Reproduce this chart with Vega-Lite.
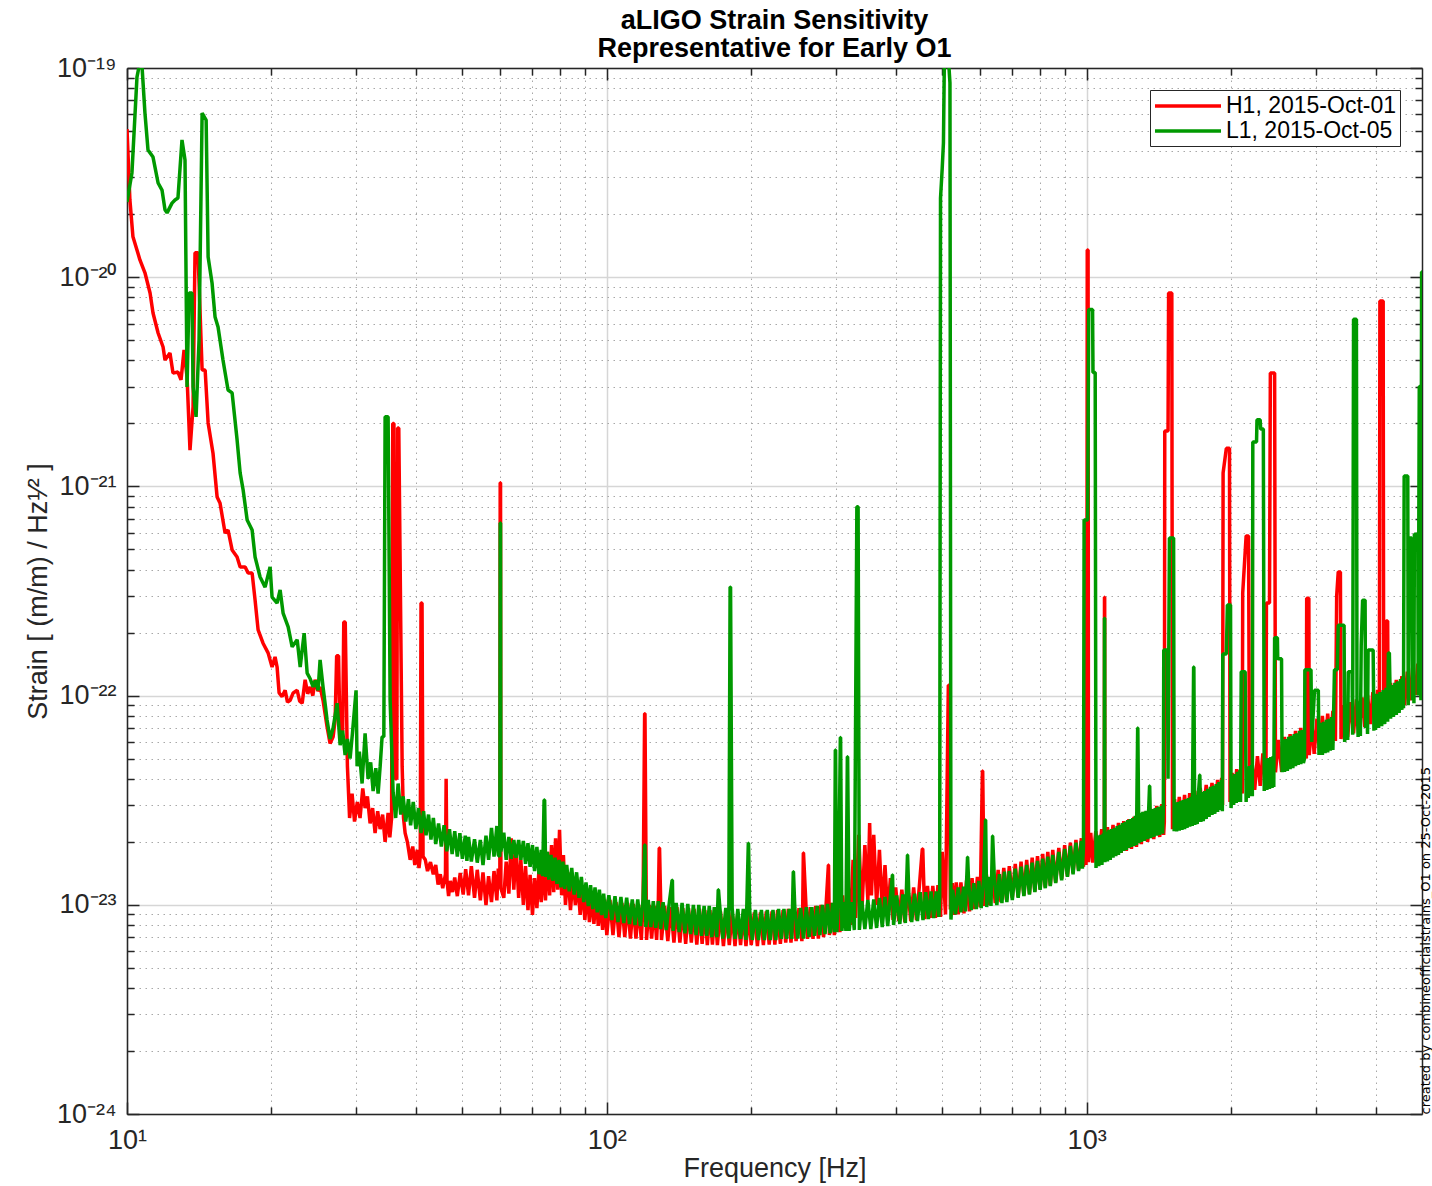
{
"$schema": "https://vega.github.io/schema/vega-lite/v6.json",
"width": 1295,
"height": 1046,
"autosize": {"type": "none"},
"padding": {"left": 127, "top": 68, "right": 10, "bottom": 72},
"background": "white",
"config": {"view": {"stroke": null}, "font": "Liberation Sans"},
"title": {"text": ["aLIGO Strain Sensitivity", "Representative for Early O1"], "fontSize": 27, "fontWeight": "bold", "font": "Liberation Sans", "color": "#000000", "lineHeight": 28, "offset": -9, "anchor": "middle"},
"datasets": {
"h1": [
{"f":10,"h":5.1e-20},{"f":10.14,"h":2.34e-20},{"f":10.29,"h":1.56e-20},{"f":10.49,"h":1.35e-20},{"f":10.64,"h":1.21e-20},{"f":10.9,"h":1.05e-20},{"f":11.17,"h":8.4e-21},{"f":11.33,"h":6.74e-21},{"f":11.61,"h":5.41e-21},{"f":11.89,"h":4.64e-21},{"f":12.0,"h":4.02e-21},{"f":12.29,"h":4.34e-21},{"f":12.47,"h":3.48e-21},{"f":12.77,"h":3.52e-21},{"f":12.96,"h":3.23e-21},{"f":13.15,"h":4.49e-21},{"f":13.34,"h":3.33e-21},{"f":13.53,"h":1.49e-21},{"f":13.73,"h":2.4e-21},{"f":13.86,"h":1.31e-20},{"f":14.06,"h":1.31e-20},{"f":14.34,"h":3.6e-21},{"f":14.55,"h":3.6e-21},{"f":14.76,"h":2.01e-21},{"f":15.11,"h":1.44e-21},{"f":15.41,"h":8.9e-22},{"f":15.63,"h":8.3e-22},{"f":16.01,"h":5.99e-22},{"f":16.24,"h":6.19e-22},{"f":16.56,"h":4.97e-22},{"f":16.96,"h":4.6e-22},{"f":17.21,"h":4.12e-22},{"f":17.63,"h":4.12e-22},{"f":17.88,"h":3.85e-22},{"f":18.23,"h":3.85e-22},{"f":18.49,"h":2.86e-22},{"f":18.76,"h":2.06e-22},{"f":19.21,"h":1.78e-22},{"f":19.68,"h":1.6e-22},{"f":20.06,"h":1.37e-22},{"f":20.35,"h":1.53e-22},{"f":20.55,"h":1.37e-22},{"f":20.75,"h":1.03e-22},{"f":21.05,"h":9.9e-23},{"f":21.36,"h":1.06e-22},{"f":21.6,"h":9.3e-23},{"f":21.88,"h":9.5e-23},{"f":22.2,"h":1.03e-22},{"f":22.63,"h":1.06e-22},{"f":22.9,"h":9.4e-23},{"f":23.18,"h":9.2e-23},{"f":23.51,"h":1.19e-22},{"f":23.8,"h":1.02e-22},{"f":24.08,"h":1.1e-22},{"f":24.4,"h":1.0e-22},{"f":24.66,"h":1.19e-22},{"f":25.0,"h":1.05e-22},{"f":25.26,"h":1.1e-22},{"f":25.62,"h":9.5e-23},{"f":26.12,"h":7.1e-23},{"f":26.5,"h":5.9e-23},{"f":26.89,"h":6.35e-23},{"f":27.15,"h":7.65e-23},{"f":27.35,"h":1.55e-22},{"f":27.6,"h":1.55e-22},{"f":27.8,"h":6.5e-23},{"f":28.15,"h":6.8e-23},{"f":28.3,"h":2.25e-22},{"f":28.5,"h":2.25e-22},{"f":28.8,"h":4.6e-23},{"f":29.1,"h":2.6e-23},{"f":29.45,"h":3.4e-23},{"f":29.8,"h":2.5e-23},{"f":30.2,"h":3.1e-23},{"f":30.6,"h":2.6e-23},{"f":31.0,"h":3.6e-23},{"f":31.35,"h":2.9e-23},{"f":31.7,"h":3.3e-23},{"f":32.11,"h":2.45e-23},{"f":32.5,"h":2.9e-23},{"f":32.89,"h":2.2e-23},{"f":33.3,"h":2.8e-23},{"f":33.69,"h":2.3e-23},{"f":34.1,"h":2.7e-23},{"f":34.51,"h":2.0e-23},{"f":35.01,"h":2.75e-23},{"f":35.3,"h":2.1e-23},{"f":35.6,"h":2.6e-23},{"f":35.8,"h":2.0e-21},{"f":36.0,"h":2.0e-21},{"f":36.2,"h":4.0e-23},{"f":36.5,"h":4.0e-23},{"f":36.65,"h":1.9e-21},{"f":36.85,"h":1.9e-21},{"f":37.45,"h":4.6e-23},{"f":37.7,"h":2.6e-23},{"f":37.99,"h":2.2e-23},{"f":38.4,"h":2.0e-23},{"f":38.92,"h":1.64e-23},{"f":39.4,"h":1.9e-23},{"f":39.8,"h":1.55e-23},{"f":40.27,"h":1.83e-23},{"f":40.6,"h":1.5e-23},{"f":40.85,"h":1.7e-23},{"f":41.0,"h":2.77e-22},{"f":41.2,"h":2.77e-22},{"f":41.4,"h":1.7e-23},{"f":41.85,"h":1.64e-23},{"f":42.3,"h":1.45e-23},{"f":42.9,"h":1.6e-23},{"f":43.49,"h":1.4e-23},{"f":44.0,"h":1.55e-23},{"f":44.5,"h":1.25e-23},{"f":44.97,"h":1.4e-23},{"f":45.5,"h":1.2e-23},{"f":46.1,"h":1.4e-23},{"f":46.25,"h":4.0e-23},{"f":46.45,"h":1.3e-23},{"f":46.8,"h":1.1e-23},{"f":47.17,"h":1.3e-23},{"f":47.7,"h":1.15e-23},{"f":48.2,"h":1.35e-23},{"f":48.8,"h":1.1e-23},{"f":49.49,"h":1.42e-23},{"f":50.2,"h":1.12e-23},{"f":50.8,"h":1.48e-23},
{"f":51.5,"h":1.11e-23},{"f":52.2,"h":1.53e-23},{"f":53,"h":1.08e-23},{"f":53.7,"h":1.47e-23},{"f":54.5,"h":1.05e-23},{"f":55.2,"h":1.43e-23},{"f":56,"h":9.98e-24},{"f":56.7,"h":1.37e-23},{"f":57.5,"h":1.03e-23},{"f":58.2,"h":1.45e-23},{"f":59,"h":1.05e-23},{"f":59.4,"h":1.49e-23},{"f":59.85,"h":1.2e-23},{"f":59.95,"h":1.04e-21},{"f":60.05,"h":1.04e-21},{"f":60.15,"h":1.2e-23},{"f":61,"h":1.08e-23},{"f":61.7,"h":1.61e-23},{"f":62.5,"h":1.13e-23},{"f":63.2,"h":2.08e-23},{"f":64,"h":1.18e-23},{"f":64.7,"h":1.9e-23},{"f":65.5,"h":1.08e-23},{"f":66.2,"h":1.64e-23},{"f":67,"h":9.98e-24},{"f":67.7,"h":1.53e-23},{"f":68.5,"h":9.44e-24},{"f":69.2,"h":1.39e-23},{"f":70,"h":8.94e-24},{"f":70.7,"h":1.34e-23},{"f":71.5,"h":9.65e-24},{"f":72.2,"h":1.47e-23},{"f":73,"h":1.03e-23},{"f":73.7,"h":1.61e-23},{"f":74.5,"h":1.05e-23},{"f":75.2,"h":1.79e-23},{"f":76,"h":1.11e-23},{"f":76.7,"h":1.93e-23},{"f":77.5,"h":1.15e-23},{"f":78.2,"h":2.08e-23},{"f":79,"h":1.18e-23},{"f":79.7,"h":2.28e-23},{"f":80.5,"h":1.11e-23},{"f":81.2,"h":1.73e-23},{"f":82,"h":9.98e-24},{"f":83,"h":1.43e-23},{"f":84,"h":9.44e-24},{"f":85,"h":1.34e-23},{"f":86,"h":9.98e-24},{"f":87,"h":1.28e-23},{"f":88,"h":8.94e-24},{"f":89,"h":1.23e-23},{"f":90,"h":8.46e-24},{"f":91,"h":1.18e-23},{"f":92,"h":8.27e-24},{"f":93,"h":1.13e-23},{"f":94,"h":8.1e-24},{"f":95,"h":1.11e-23},{"f":96,"h":7.92e-24},{"f":97,"h":1.08e-23},{"f":98,"h":7.58e-24},{"f":99,"h":1.06e-23},{"f":100,"h":7.17e-24},{"f":101.5,"h":1.054e-23},{"f":103,"h":7.17e-24},{"f":104.5,"h":1.03e-23},{"f":106,"h":7.0e-24},{"f":107.5,"h":1.02e-23},{"f":109,"h":7.0e-24},{"f":110.5,"h":1.02e-23},{"f":112,"h":6.9e-24},{"f":113.5,"h":1.01e-23},{"f":115,"h":6.9e-24},{"f":116.5,"h":9.98e-24},{"f":118,"h":6.79e-24},{"f":119,"h":9.98e-24},{"f":119.9,"h":8.2e-23},{"f":120.1,"h":8.2e-23},{"f":121,"h":6.79e-24},{"f":122.5,"h":9.98e-24},{"f":124,"h":6.9e-24},{"f":125.5,"h":9.87e-24},{"f":127,"h":6.79e-24},{"f":128,"h":9.87e-24},{"f":128.6,"h":1.87e-23},{"f":128.8,"h":1.87e-23},{"f":130,"h":6.79e-24},{"f":132,"h":9.87e-24},{"f":134,"h":6.7e-24},{"f":136,"h":9.75e-24},{"f":138,"h":6.6e-24},{"f":140,"h":9.75e-24},{"f":142,"h":6.6e-24},{"f":144,"h":9.65e-24},{"f":146,"h":6.5e-24},{"f":148,"h":9.65e-24},{"f":150,"h":6.6e-24},{"f":152,"h":9.55e-24},{"f":154,"h":6.45e-24},{"f":156,"h":9.55e-24},{"f":158,"h":6.5e-24},{"f":160,"h":9.44e-24},{"f":162,"h":6.42e-24},{"f":164,"h":9.44e-24},{"f":166,"h":6.45e-24},{"f":168,"h":9.3e-24},{"f":170,"h":6.42e-24},{"f":172.5,"h":9.3e-24},{"f":175,"h":6.35e-24},{"f":177.5,"h":9.2e-24},{"f":180,"h":6.42e-24},{"f":182.5,"h":9.2e-24},{"f":185,"h":6.35e-24},{"f":187.5,"h":9.2e-24},{"f":190,"h":6.42e-24},{"f":192.5,"h":9.1e-24},{"f":195,"h":6.35e-24},{"f":197.5,"h":9.2e-24},{"f":200,"h":6.42e-24},{"f":203,"h":9.2e-24},{"f":206,"h":6.35e-24},{"f":209,"h":9.2e-24},{"f":212,"h":6.42e-24},{"f":215,"h":9.3e-24},{"f":218,"h":6.45e-24},{"f":221,"h":9.3e-24},{"f":224,"h":6.45e-24},{"f":227,"h":9.44e-24},{"f":230,"h":6.5e-24},{"f":233,"h":9.44e-24},{"f":236,"h":6.6e-24},{"f":239,"h":9.55e-24},{"f":242,"h":6.6e-24},{"f":245,"h":9.55e-24},{"f":248,"h":6.7e-24},{"f":251.5,"h":9.65e-24},{"f":255,"h":6.7e-24},{"f":256,"h":9.65e-24},{"f":256.8,"h":1.77e-23},{"f":257.0,"h":1.77e-23},{"f":262,"h":6.87e-24},{"f":265.5,"h":9.75e-24},{"f":269,"h":6.87e-24},{"f":272.5,"h":9.87e-24},{"f":276,"h":6.9e-24},{"f":279.5,"h":9.98e-24},{"f":283,"h":7.0e-24},{"f":286.5,"h":1.01e-23},{"f":289.6,"h":1.55e-23},{"f":289.8,"h":1.55e-23},{"f":291,"h":7.17e-24},{"f":294.5,"h":1.02e-23},{"f":298,"h":7.17e-24},{"f":302,"h":1.054e-23},{"f":306,"h":7.4e-24},{"f":310,"h":1.11e-23},{"f":314,"h":7.75e-24},{"f":318,"h":1.31e-23},{"f":322,"h":8.01e-24},{"f":326,"h":1.64e-23},{"f":330,"h":8.65e-24},{"f":335,"h":2.16e-23},{"f":340,"h":9.2e-24},{"f":345,"h":1.93e-23},{"f":350,"h":1.054e-23},{"f":353,"h":2.46e-23},{"f":356,"h":1.11e-23},{"f":360,"h":2.16e-23},{"f":365,"h":9.98e-24},{"f":370,"h":1.83e-23},{"f":375,"h":9.44e-24},{"f":380,"h":1.55e-23},{"f":385,"h":8.94e-24},{"f":390,"h":1.34e-23},{"f":395,"h":8.46e-24},{"f":400,"h":1.21e-23},{"f":406,"h":8.36e-24},{"f":412,"h":1.18e-23},{"f":418,"h":8.27e-24},{"f":424,"h":1.21e-23},{"f":430,"h":8.36e-24},{"f":436,"h":1.21e-23},{"f":442,"h":8.46e-24},{"f":448,"h":1.22e-23},{"f":454.5,"h":1.85e-23},{"f":455.5,"h":1.85e-23},{"f":460,"h":8.55e-24},{"f":466,"h":1.23e-23},{"f":472,"h":8.65e-24},{"f":478,"h":1.23e-23},{"f":484,"h":8.65e-24},{"f":490,"h":1.24e-23},{"f":496,"h":8.75e-24},{"f":500,"h":1.79e-23},{"f":508,"h":9.0e-24},{"f":515,"h":1.12e-22},{"f":516,"h":1.12e-22},{"f":520,"h":9.5e-24},{"f":525,"h":1.27e-23},{"f":530,"h":8.94e-24},{"f":535,"h":1.28e-23},{"f":540,"h":9.0e-24},{"f":547,"h":1.28e-23},{"f":555,"h":9.1e-24},{"f":562,"h":1.31e-23},{"f":570,"h":9.3e-24},{"f":577,"h":1.34e-23},{"f":585,"h":9.55e-24},{"f":592,"h":1.36e-23},{"f":600,"h":9.75e-24},{"f":606.5,"h":4.36e-23},{"f":607.3,"h":4.36e-23},{"f":612,"h":9.87e-24},{"f":618,"h":1.4e-23},{"f":627,"h":9.98e-24},{"f":636,"h":1.44e-23},{"f":645,"h":1.02e-23},{"f":654,"h":1.47e-23},{"f":663,"h":1.03e-23},{"f":672,"h":1.5e-23},{"f":681,"h":1.054e-23},{"f":690,"h":1.53e-23},{"f":700,"h":1.08e-23},{"f":710,"h":1.57e-23},{"f":720,"h":1.09e-23},{"f":730,"h":1.61e-23},{"f":740,"h":1.11e-23},{"f":750,"h":1.64e-23},{"f":760,"h":1.13e-23},{"f":770,"h":1.68e-23},{"f":780,"h":1.16e-23},{"f":790,"h":1.71e-23},{"f":800,"h":1.19e-23},{"f":810,"h":1.75e-23},{"f":820,"h":1.21e-23},{"f":830,"h":1.79e-23},{"f":840,"h":1.24e-23},{"f":850,"h":1.83e-23},{"f":862,"h":1.28e-23},{"f":875,"h":1.87e-23},{"f":887,"h":1.33e-23},{"f":900,"h":1.93e-23},{"f":912,"h":1.37e-23},{"f":925,"h":1.98e-23},{"f":937,"h":1.42e-23},{"f":950,"h":2.04e-23},{"f":962,"h":1.47e-23},{"f":975,"h":2.08e-23},{"f":985,"h":1.52e-23},{"f":990,"h":2.14e-23},{"f":997,"h":1.55e-23},{"f":999,"h":6.9e-22},{"f":1002,"h":6.9e-22},{"f":1003,"h":1.35e-20},{"f":1007,"h":1.35e-20},{"f":1009,"h":1.6e-23},{"f":1020,"h":2.21e-23},{"f":1030,"h":1.59e-23},{"f":1045,"h":2.25e-23},{"f":1060,"h":1.62e-23},{"f":1075,"h":2.3e-23},{"f":1088.5,"h":1.7e-23},{"f":1089.5,"h":2.95e-22},{"f":1090.5,"h":2.95e-22},{"f":1091.5,"h":1.65e-23},{"f":1105,"h":2.35e-23},{"f":1120,"h":1.7e-23},{"f":1135,"h":2.41e-23},{"f":1150,"h":1.73e-23},{"f":1165,"h":2.46e-23},{"f":1180,"h":1.77e-23},{"f":1195,"h":2.51e-23},{"f":1210,"h":1.81e-23},{"f":1225,"h":2.57e-23},{"f":1240,"h":1.85e-23},{"f":1255,"h":2.63e-23},{"f":1270,"h":1.89e-23},{"f":1285,"h":2.69e-23},{"f":1300,"h":1.95e-23},{"f":1320,"h":2.78e-23},{"f":1340,"h":2.0e-23},{"f":1360,"h":2.87e-23},{"f":1380,"h":2.06e-23},{"f":1400,"h":2.97e-23},{"f":1420,"h":2.11e-23},{"f":1435,"h":3.03e-23},{"f":1447,"h":2.16e-23},{"f":1452,"h":2.5e-23},{"f":1455,"h":1.84e-21},{"f":1478,"h":1.84e-21},{"f":1482,"h":8.4e-21},{"f":1505,"h":8.4e-21},{"f":1510,"h":2.3e-23},{"f":1525,"h":3.2e-23},{"f":1540,"h":2.3e-23},{"f":1560,"h":3.28e-23},{"f":1580,"h":2.36e-23},{"f":1600,"h":3.35e-23},{"f":1620,"h":2.41e-23},{"f":1640,"h":3.42e-23},{"f":1660,"h":2.49e-23},{"f":1680,"h":3.5e-23},{"f":1700,"h":2.54e-23},{"f":1725,"h":3.62e-23},{"f":1750,"h":2.66e-23},{"f":1775,"h":3.74e-23},{"f":1800,"h":2.78e-23},{"f":1825,"h":3.82e-23},{"f":1850,"h":2.84e-23},{"f":1875,"h":3.95e-23},{"f":1900,"h":2.97e-23},{"f":1912,"h":4.04e-23},{"f":1920,"h":3.0e-23},{"f":1925,"h":1.16e-21},{"f":1955,"h":1.52e-21},{"f":1985,"h":1.52e-21},{"f":1990,"h":3.1e-23},{"f":2010,"h":4.27e-23},{"f":2030,"h":3.17e-23},{"f":2055,"h":4.45e-23},{"f":2080,"h":3.28e-23},{"f":2100,"h":4.6e-23},{"f":2110,"h":3.4e-23},{"f":2115,"h":3.1e-22},{"f":2150,"h":5.8e-22},{"f":2175,"h":5.8e-22},{"f":2185,"h":3.5e-23},{"f":2210,"h":4.92e-23},{"f":2240,"h":3.54e-23},{"f":2270,"h":5.14e-23},{"f":2300,"h":3.7e-23},{"f":2330,"h":5.3e-23},{"f":2360,"h":3.82e-23},{"f":2365,"h":4.5e-23},{"f":2370,"h":2.77e-22},{"f":2405,"h":2.77e-22},{"f":2415,"h":3.48e-21},{"f":2465,"h":3.48e-21},{"f":2475,"h":4.3e-23},{"f":2510,"h":6.14e-23},{"f":2550,"h":4.32e-23},{"f":2585,"h":6.35e-23},{"f":2620,"h":4.45e-23},{"f":2655,"h":6.55e-23},{"f":2690,"h":4.6e-23},{"f":2725,"h":6.78e-23},{"f":2760,"h":4.76e-23},{"f":2795,"h":7.0e-23},{"f":2830,"h":4.92e-23},{"f":2850,"h":7.1e-23},{"f":2870,"h":5.0e-23},{"f":2875,"h":2.92e-22},{"f":2905,"h":2.92e-22},{"f":2910,"h":5.2e-23},{"f":2945,"h":7.5e-23},{"f":2980,"h":5.26e-23},{"f":3020,"h":7.75e-23},{"f":3060,"h":5.45e-23},{"f":3100,"h":8.0e-23},{"f":3140,"h":5.68e-23},{"f":3180,"h":8.2e-23},{"f":3220,"h":5.87e-23},{"f":3260,"h":8.45e-23},{"f":3300,"h":6.07e-23},{"f":3320,"h":3.0e-22},{"f":3345,"h":3.9e-22},{"f":3380,"h":3.9e-22},{"f":3390,"h":6.2e-23},{"f":3445,"h":9.0e-23},{"f":3500,"h":6.35e-23},{"f":3550,"h":9.3e-23},{"f":3600,"h":6.6e-23},{"f":3650,"h":9.6e-23},{"f":3700,"h":6.85e-23},{"f":3750,"h":9.8e-23},{"f":3800,"h":7.07e-23},{"f":3850,"h":1.007e-22},{"f":3900,"h":7.3e-23},{"f":3950,"h":1.04e-22},{"f":4000,"h":7.55e-23},{"f":4040,"h":1.064e-22},{"f":4075,"h":8.0e-23},{"f":4085,"h":7.7e-21},{"f":4150,"h":7.7e-21},{"f":4160,"h":8.0e-23},{"f":4200,"h":1.08e-22},{"f":4210,"h":2.27e-22},{"f":4240,"h":2.27e-22},{"f":4250,"h":8.08e-23},{"f":4300,"h":1.15e-22},{"f":4360,"h":8.26e-23},{"f":4420,"h":1.19e-22},{"f":4480,"h":8.6e-23},{"f":4540,"h":1.24e-22},{"f":4600,"h":9.0e-23},{"f":4660,"h":1.3e-22},{"f":4720,"h":9.5e-23},{"f":4780,"h":1.36e-22},{"f":4840,"h":1.007e-22},{"f":4900,"h":1.42e-22},{"f":4960,"h":1.064e-22},{"f":5000,"h":2.0e-22}
],
"l1": [
{"f":10,"h":2.29e-20},{"f":10.24,"h":3.15e-20},{"f":10.49,"h":9.05e-20},{"f":10.59,"h":1.01e-19},{"f":10.75,"h":1.01e-19},{"f":10.9,"h":6.09e-20},{"f":11.06,"h":4.06e-20},{"f":11.33,"h":3.75e-20},{"f":11.61,"h":2.82e-20},{"f":11.83,"h":2.61e-20},{"f":12.0,"h":2.1e-20},{"f":12.12,"h":2.03e-20},{"f":12.41,"h":2.26e-20},{"f":12.59,"h":2.34e-20},{"f":12.77,"h":2.39e-20},{"f":13.02,"h":4.53e-20},{"f":13.21,"h":3.63e-20},{"f":13.34,"h":2.99e-21},{"f":13.47,"h":8.4e-21},{"f":13.66,"h":8.4e-21},{"f":13.73,"h":2.99e-21},{"f":13.93,"h":2.15e-21},{"f":14.13,"h":5.01e-21},{"f":14.34,"h":6.09e-20},{"f":14.62,"h":5.64e-20},{"f":14.76,"h":1.25e-20},{"f":15.04,"h":9.38e-21},{"f":15.26,"h":6.45e-21},{"f":15.48,"h":5.78e-21},{"f":15.85,"h":4.02e-21},{"f":16.24,"h":2.89e-21},{"f":16.56,"h":2.8e-21},{"f":16.96,"h":1.67e-21},{"f":17.21,"h":1.16e-21},{"f":17.46,"h":9.61e-22},{"f":17.8,"h":6.91e-22},{"f":18.23,"h":6.19e-22},{"f":18.49,"h":4.6e-22},{"f":18.94,"h":3.69e-22},{"f":19.4,"h":3.3e-22},{"f":19.87,"h":4.12e-22},{"f":20.06,"h":2.96e-22},{"f":20.55,"h":2.77e-22},{"f":20.85,"h":3.2e-22},{"f":21.15,"h":2.48e-22},{"f":21.67,"h":2.13e-22},{"f":22.09,"h":1.71e-22},{"f":22.63,"h":1.85e-22},{"f":22.96,"h":1.37e-22},{"f":23.4,"h":1.99e-22},{"f":23.74,"h":1.28e-22},{"f":24.1,"h":1.2e-22},{"f":24.43,"h":1.1e-22},{"f":24.7,"h":1.18e-22},{"f":25.02,"h":1.06e-22},{"f":25.26,"h":1.48e-22},{"f":25.62,"h":1.1e-22},{"f":25.9,"h":9.0e-23},{"f":26.12,"h":7.65e-23},{"f":26.5,"h":6.2e-23},{"f":26.89,"h":7.0e-23},{"f":27.41,"h":9.2e-23},{"f":27.81,"h":5.8e-23},{"f":28.15,"h":6.8e-23},{"f":28.48,"h":5.2e-23},{"f":28.8,"h":6.2e-23},{"f":29.17,"h":5.0e-23},{"f":29.5,"h":6.6e-23},{"f":30.02,"h":1.06e-22},{"f":30.17,"h":4.6e-23},{"f":30.5,"h":5.4e-23},{"f":30.9,"h":3.8e-23},{"f":31.35,"h":6.6e-23},{"f":31.8,"h":4.0e-23},{"f":32.2,"h":4.8e-23},{"f":32.58,"h":3.5e-23},{"f":33.0,"h":4.5e-23},{"f":33.37,"h":3.4e-23},{"f":33.7,"h":4.6e-23},{"f":34.01,"h":6.35e-23},{"f":34.3,"h":6.35e-23},{"f":34.51,"h":2.15e-21},{"f":35.01,"h":2.15e-21},{"f":35.35,"h":9.5e-23},{"f":35.86,"h":3.45e-23},{"f":36.3,"h":2.6e-23},{"f":36.73,"h":3.8e-23},{"f":37.2,"h":2.7e-23},{"f":37.63,"h":3.3e-23},{"f":38.1,"h":2.5e-23},{"f":38.6,"h":3.2e-23},{"f":39.0,"h":2.4e-23},{"f":39.5,"h":3.1e-23},{"f":40.0,"h":2.3e-23},{"f":40.5,"h":2.9e-23},{"f":41.0,"h":2.2e-23},{"f":41.5,"h":2.8e-23},{"f":42.0,"h":2.15e-23},{"f":42.5,"h":2.7e-23},{"f":43.0,"h":2.05e-23},{"f":43.5,"h":2.6e-23},{"f":44.0,"h":1.95e-23},{"f":44.6,"h":2.45e-23},{"f":45.2,"h":1.9e-23},{"f":45.8,"h":2.4e-23},{"f":46.4,"h":1.8e-23},{"f":47.0,"h":2.3e-23},{"f":47.6,"h":1.75e-23},{"f":48.2,"h":2.25e-23},{"f":48.8,"h":1.7e-23},{"f":49.4,"h":2.2e-23},{"f":50.0,"h":1.66e-23},{"f":50.7,"h":2.14e-23},{"f":51.1,"h":1.62e-23},{"f":51.5,"h":2.11e-23},{"f":52.2,"h":1.61e-23},{"f":53,"h":2.06e-23},{"f":53.7,"h":1.59e-23},{"f":54.5,"h":2.04e-23},{"f":55.2,"h":1.55e-23},{"f":56,"h":2.14e-23},{"f":56.7,"h":1.64e-23},{"f":57.5,"h":2.33e-23},{"f":58.2,"h":1.7e-23},{"f":59,"h":2.38e-23},{"f":59.4,"h":1.73e-23},{"f":59.85,"h":1.7e-23},{"f":59.95,"h":6.68e-22},{"f":60.05,"h":6.68e-22},{"f":60.15,"h":1.8e-23},{"f":61,"h":2.21e-23},{"f":61.7,"h":1.64e-23},{"f":62.5,"h":2.11e-23},{"f":63.2,"h":1.66e-23},{"f":64,"h":2.04e-23},{"f":64.7,"h":1.68e-23},{"f":65.5,"h":2.04e-23},{"f":66.2,"h":1.64e-23},{"f":67,"h":2.02e-23},{"f":67.7,"h":1.57e-23},{"f":68.5,"h":1.97e-23},{"f":69.2,"h":1.52e-23},{"f":70,"h":1.93e-23},{"f":70.7,"h":1.45e-23},{"f":71.5,"h":1.89e-23},{"f":72.2,"h":1.4e-23},{"f":73,"h":1.83e-23},{"f":73.5,"h":1.37e-23},{"f":74.0,"h":3.17e-23},{"f":74.2,"h":3.17e-23},{"f":74.6,"h":1.36e-23},{"f":75.2,"h":1.79e-23},{"f":75.7,"h":1.32e-23},{"f":76.5,"h":1.73e-23},{"f":77.2,"h":1.3e-23},{"f":78,"h":1.68e-23},{"f":78.7,"h":1.26e-23},{"f":79.5,"h":1.64e-23},{"f":80.2,"h":1.21e-23},{"f":81,"h":1.61e-23},{"f":81.7,"h":1.19e-23},{"f":82.5,"h":1.55e-23},{"f":83.5,"h":1.16e-23},{"f":84.5,"h":1.5e-23},{"f":85.5,"h":1.12e-23},{"f":86.5,"h":1.43e-23},{"f":87.5,"h":1.08e-23},{"f":88.5,"h":1.36e-23},{"f":89.5,"h":1.03e-23},{"f":90.5,"h":1.28e-23},{"f":91.5,"h":9.87e-24},{"f":92.5,"h":1.24e-23},{"f":93.5,"h":9.55e-24},{"f":94.5,"h":1.21e-23},{"f":95.5,"h":9.2e-24},{"f":96.5,"h":1.18e-23},{"f":97.5,"h":8.94e-24},{"f":98.5,"h":1.13e-23},{"f":99.5,"h":8.65e-24},{"f":101,"h":1.11e-23},{"f":102.5,"h":8.46e-24},{"f":104,"h":1.1e-23},{"f":105.5,"h":8.27e-24},{"f":107,"h":1.09e-23},{"f":108.5,"h":8.18e-24},{"f":110,"h":1.08e-23},{"f":111.5,"h":8.1e-24},{"f":113,"h":1.06e-23},{"f":114.5,"h":8.01e-24},{"f":116,"h":1.06e-23},{"f":117.5,"h":7.92e-24},{"f":119,"h":1.054e-23},{"f":119.9,"h":1.93e-23},{"f":120.1,"h":1.93e-23},{"f":120.6,"h":7.83e-24},{"f":122,"h":1.054e-23},{"f":123.5,"h":7.83e-24},{"f":125,"h":1.04e-23},{"f":126.5,"h":7.75e-24},{"f":128,"h":1.04e-23},{"f":129.5,"h":7.66e-24},{"f":131,"h":1.03e-23},{"f":133,"h":7.58e-24},{"f":135,"h":1.03e-23},{"f":136.8,"h":1.31e-23},{"f":137.0,"h":1.31e-23},{"f":137.5,"h":7.5e-24},{"f":139.5,"h":1.02e-23},{"f":141.5,"h":7.4e-24},{"f":143.5,"h":1.02e-23},{"f":145.5,"h":7.3e-24},{"f":147.5,"h":1.01e-23},{"f":149.5,"h":7.25e-24},{"f":151.5,"h":9.98e-24},{"f":153.5,"h":7.17e-24},{"f":155.5,"h":9.98e-24},{"f":157.5,"h":7.1e-24},{"f":159.5,"h":9.87e-24},{"f":161.5,"h":7.1e-24},{"f":163.5,"h":9.87e-24},{"f":165.5,"h":7.0e-24},{"f":167.5,"h":9.75e-24},{"f":169.5,"h":7.0e-24},{"f":170.7,"h":1.18e-23},{"f":170.9,"h":1.18e-23},{"f":172,"h":9.75e-24},{"f":174.5,"h":6.9e-24},{"f":177,"h":9.65e-24},{"f":179.5,"h":6.9e-24},{"f":180.7,"h":3.3e-22},{"f":181.1,"h":3.3e-22},{"f":182.5,"h":9.65e-24},{"f":185,"h":6.87e-24},{"f":187.5,"h":9.55e-24},{"f":190,"h":6.87e-24},{"f":192.5,"h":9.55e-24},{"f":195,"h":6.79e-24},{"f":197.2,"h":1.97e-23},{"f":197.4,"h":1.97e-23},{"f":198.5,"h":9.44e-24},{"f":201,"h":6.79e-24},{"f":204,"h":9.44e-24},{"f":207,"h":6.79e-24},{"f":210,"h":9.44e-24},{"f":213,"h":6.79e-24},{"f":216,"h":9.44e-24},{"f":219,"h":6.79e-24},{"f":222,"h":9.44e-24},{"f":225,"h":6.79e-24},{"f":228,"h":9.55e-24},{"f":231,"h":6.87e-24},{"f":234,"h":9.55e-24},{"f":237,"h":6.87e-24},{"f":240,"h":9.55e-24},{"f":243,"h":6.87e-24},{"f":244.7,"h":1.44e-23},{"f":244.9,"h":1.44e-23},{"f":246.5,"h":9.65e-24},{"f":250,"h":6.9e-24},{"f":253.5,"h":9.65e-24},{"f":257,"h":6.9e-24},{"f":260.5,"h":9.75e-24},{"f":264,"h":7.0e-24},{"f":267.5,"h":9.75e-24},{"f":271,"h":7.1e-24},{"f":274.5,"h":9.87e-24},{"f":278,"h":7.17e-24},{"f":281.5,"h":9.98e-24},{"f":285,"h":7.25e-24},{"f":288.5,"h":1.01e-23},{"f":292,"h":7.3e-24},{"f":295.5,"h":1.02e-23},{"f":298,"h":7.4e-24},{"f":299.4,"h":5.5e-23},{"f":299.8,"h":5.5e-23},{"f":301.5,"h":7.4e-24},{"f":304,"h":1.02e-23},{"f":306.7,"h":6.3e-23},{"f":307.1,"h":6.3e-23},{"f":309,"h":7.5e-24},{"f":312,"h":1.03e-23},{"f":315,"h":7.5e-24},{"f":317.2,"h":5.1e-23},{"f":317.6,"h":5.1e-23},{"f":320,"h":7.5e-24},{"f":324,"h":1.03e-23},{"f":328,"h":7.58e-24},{"f":332,"h":8.0e-22},{"f":334,"h":8.0e-22},{"f":336,"h":7.58e-24},{"f":340,"h":1.04e-23},{"f":345,"h":7.66e-24},{"f":350,"h":1.054e-23},{"f":355,"h":7.66e-24},{"f":360,"h":1.06e-23},{"f":365,"h":7.75e-24},{"f":370,"h":1.08e-23},{"f":375,"h":7.83e-24},{"f":380,"h":1.09e-23},{"f":385,"h":7.92e-24},{"f":390,"h":1.1e-23},{"f":393.8,"h":1.39e-23},{"f":394.0,"h":1.39e-23},{"f":396,"h":8.01e-24},{"f":402,"h":1.11e-23},{"f":408,"h":8.1e-24},{"f":414,"h":1.12e-23},{"f":419,"h":8.18e-24},{"f":423.3,"h":1.73e-23},{"f":423.5,"h":1.73e-23},{"f":426,"h":1.13e-23},{"f":432,"h":8.27e-24},{"f":438,"h":1.13e-23},{"f":444,"h":8.36e-24},{"f":450,"h":1.15e-23},{"f":456,"h":8.46e-24},{"f":462,"h":1.15e-23},{"f":468,"h":8.55e-24},{"f":474,"h":1.16e-23},{"f":480,"h":8.65e-24},{"f":486,"h":1.16e-23},{"f":492,"h":8.75e-24},{"f":494,"h":1.1e-23},{"f":496,"h":2.39e-20},{"f":500,"h":3.3e-20},{"f":503,"h":4.38e-20},{"f":505.5,"h":1.2e-19},{"f":514,"h":1.2e-19},{"f":519,"h":8.5e-20},{"f":521.5,"h":8.5e-24},{"f":526,"h":1.18e-23},{"f":533,"h":9.0e-24},{"f":540,"h":1.21e-23},{"f":547,"h":9.2e-24},{"f":554,"h":1.22e-23},{"f":559,"h":9.3e-24},{"f":564.7,"h":1.69e-23},{"f":564.9,"h":1.69e-23},{"f":568,"h":1.24e-23},{"f":575,"h":9.44e-24},{"f":582,"h":1.27e-23},{"f":589,"h":9.55e-24},{"f":596,"h":1.3e-23},{"f":603,"h":9.65e-24},{"f":610,"h":1.33e-23},{"f":615.5,"h":2.54e-23},{"f":615.9,"h":2.54e-23},{"f":619,"h":9.75e-24},{"f":627,"h":1.36e-23},{"f":632,"h":9.87e-24},{"f":636.7,"h":2.13e-23},{"f":637.0,"h":2.13e-23},{"f":642,"h":1.37e-23},{"f":650,"h":9.98e-24},{"f":658,"h":1.4e-23},{"f":666,"h":1.02e-23},{"f":674,"h":1.44e-23},{"f":682,"h":1.03e-23},{"f":690,"h":1.45e-23},{"f":700,"h":1.054e-23},{"f":710,"h":1.49e-23},{"f":720,"h":1.08e-23},{"f":730,"h":1.52e-23},{"f":740,"h":1.1e-23},{"f":750,"h":1.55e-23},{"f":760,"h":1.12e-23},{"f":770,"h":1.59e-23},{"f":780,"h":1.15e-23},{"f":790,"h":1.62e-23},{"f":800,"h":1.18e-23},{"f":810,"h":1.66e-23},{"f":820,"h":1.2e-23},{"f":830,"h":1.7e-23},{"f":840,"h":1.23e-23},{"f":850,"h":1.73e-23},{"f":862,"h":1.27e-23},{"f":875,"h":1.79e-23},{"f":887,"h":1.31e-23},{"f":900,"h":1.85e-23},{"f":912,"h":1.36e-23},{"f":925,"h":1.91e-23},{"f":937,"h":1.4e-23},{"f":950,"h":1.98e-23},{"f":962,"h":1.45e-23},{"f":975,"h":2.02e-23},{"f":980,"h":1.49e-23},{"f":985,"h":1.9e-23},{"f":988,"h":6.9e-22},{"f":1005,"h":6.9e-22},{"f":1010,"h":7.0e-21},{"f":1029,"h":7.0e-21},{"f":1031,"h":3.5e-21},{"f":1042,"h":3.5e-21},{"f":1046,"h":1.5e-23},{"f":1053,"h":2.14e-23},{"f":1060,"h":1.53e-23},{"f":1068,"h":2.16e-23},{"f":1076,"h":1.55e-23},{"f":1083,"h":2.19e-23},{"f":1088.5,"h":1.6e-23},{"f":1089.5,"h":2.34e-22},{"f":1090.5,"h":2.34e-22},{"f":1091.5,"h":1.6e-23},{"f":1098,"h":2.24e-23},{"f":1105,"h":1.61e-23},{"f":1113,"h":2.28e-23},{"f":1120,"h":1.64e-23},{"f":1128,"h":2.3e-23},{"f":1135,"h":1.68e-23},{"f":1143,"h":2.33e-23},{"f":1150,"h":1.71e-23},{"f":1158,"h":2.38e-23},{"f":1165,"h":1.73e-23},{"f":1173,"h":2.41e-23},{"f":1180,"h":1.77e-23},{"f":1188,"h":2.46e-23},{"f":1195,"h":1.81e-23},{"f":1203,"h":2.49e-23},{"f":1210,"h":1.83e-23},{"f":1218,"h":2.54e-23},{"f":1225,"h":1.87e-23},{"f":1233,"h":2.57e-23},{"f":1240,"h":1.89e-23},{"f":1248,"h":2.6e-23},{"f":1255,"h":1.91e-23},{"f":1263,"h":2.66e-23},{"f":1270,"h":1.93e-23},{"f":1277.5,"h":7.0e-23},{"f":1278.5,"h":7.0e-23},{"f":1285,"h":1.97e-23},{"f":1293,"h":2.75e-23},{"f":1300,"h":2.0e-23},{"f":1310,"h":2.78e-23},{"f":1320,"h":2.02e-23},{"f":1330,"h":2.81e-23},{"f":1340,"h":2.06e-23},{"f":1352.5,"h":3.7e-23},{"f":1353.5,"h":3.7e-23},{"f":1360,"h":2.08e-23},{"f":1370,"h":2.87e-23},{"f":1380,"h":2.11e-23},{"f":1390,"h":2.9e-23},{"f":1400,"h":2.14e-23},{"f":1410,"h":2.94e-23},{"f":1420,"h":2.16e-23},{"f":1432,"h":2.97e-23},{"f":1440,"h":2.19e-23},{"f":1445,"h":2.9e-23},{"f":1448,"h":1.65e-22},{"f":1474,"h":1.65e-22},{"f":1478,"h":4.0e-23},{"f":1488,"h":5.67e-22},{"f":1518,"h":5.67e-22},{"f":1522,"h":2.25e-23},{"f":1531,"h":3.07e-23},{"f":1540,"h":2.24e-23},{"f":1550,"h":3.1e-23},{"f":1560,"h":2.26e-23},{"f":1570,"h":3.14e-23},{"f":1580,"h":2.28e-23},{"f":1590,"h":3.17e-23},{"f":1600,"h":2.3e-23},{"f":1610,"h":3.2e-23},{"f":1620,"h":2.33e-23},{"f":1630,"h":3.24e-23},{"f":1640,"h":2.36e-23},{"f":1650,"h":3.28e-23},{"f":1660,"h":2.38e-23},{"f":1671,"h":1.37e-22},{"f":1673,"h":1.37e-22},{"f":1680,"h":2.41e-23},{"f":1690,"h":3.35e-23},{"f":1700,"h":2.43e-23},{"f":1710,"h":3.39e-23},{"f":1720.5,"h":4.17e-23},{"f":1721.5,"h":4.17e-23},{"f":1730,"h":2.49e-23},{"f":1740,"h":3.46e-23},{"f":1750,"h":2.51e-23},{"f":1762,"h":3.5e-23},{"f":1775,"h":2.57e-23},{"f":1787,"h":3.58e-23},{"f":1800,"h":2.63e-23},{"f":1812,"h":3.66e-23},{"f":1825,"h":2.69e-23},{"f":1837,"h":3.7e-23},{"f":1850,"h":2.72e-23},{"f":1862,"h":3.78e-23},{"f":1875,"h":2.78e-23},{"f":1887,"h":3.86e-23},{"f":1900,"h":2.84e-23},{"f":1910,"h":3.95e-23},{"f":1918,"h":2.8e-23},{"f":1922,"h":1.58e-22},{"f":1955,"h":1.58e-22},{"f":1965,"h":2.71e-22},{"f":1995,"h":2.71e-22},{"f":2000,"h":2.9e-23},{"f":2012,"h":4.13e-23},{"f":2025,"h":3.0e-23},{"f":2037,"h":4.22e-23},{"f":2050,"h":3.07e-23},{"f":2062,"h":4.32e-23},{"f":2075,"h":3.1e-23},{"f":2087,"h":4.41e-23},{"f":2093,"h":3.1e-23},{"f":2100,"h":1.3e-22},{"f":2140,"h":1.3e-22},{"f":2150,"h":3.1e-23},{"f":2160,"h":4.55e-23},{"f":2172,"h":3.24e-23},{"f":2185,"h":4.6e-23},{"f":2200,"h":3.31e-23},{"f":2208,"h":4.66e-23},{"f":2215,"h":3.3e-23},{"f":2220,"h":1.63e-21},{"f":2260,"h":1.63e-21},{"f":2265,"h":2.08e-21},{"f":2300,"h":2.08e-21},{"f":2305,"h":1.88e-21},{"f":2335,"h":1.88e-21},{"f":2345,"h":3.5e-23},{"f":2360,"h":4.98e-23},{"f":2375,"h":3.54e-23},{"f":2390,"h":5.03e-23},{"f":2405,"h":3.58e-23},{"f":2420,"h":5.09e-23},{"f":2435,"h":3.62e-23},{"f":2448,"h":5.14e-23},{"f":2455,"h":3.66e-23},{"f":2465,"h":1.89e-22},{"f":2498,"h":1.89e-22},{"f":2502,"h":1.5e-22},{"f":2548,"h":1.5e-22},{"f":2555,"h":4.3e-23},{"f":2570,"h":6.14e-23},{"f":2585,"h":4.32e-23},{"f":2603,"h":6.2e-23},{"f":2620,"h":4.36e-23},{"f":2638,"h":6.35e-23},{"f":2655,"h":4.45e-23},{"f":2672,"h":6.42e-23},{"f":2690,"h":4.5e-23},{"f":2708,"h":6.55e-23},{"f":2725,"h":4.6e-23},{"f":2742,"h":6.6e-23},{"f":2760,"h":4.66e-23},{"f":2778,"h":6.78e-23},{"f":2795,"h":4.7e-23},{"f":2812,"h":6.85e-23},{"f":2830,"h":4.76e-23},{"f":2845,"h":5.0e-23},{"f":2850,"h":1.33e-22},{"f":2935,"h":1.33e-22},{"f":2945,"h":6.0e-23},{"f":2985,"h":1.06e-22},{"f":3040,"h":1.06e-22},{"f":3050,"h":5.2e-23},{"f":3075,"h":7.4e-23},{"f":3100,"h":5.2e-23},{"f":3120,"h":7.5e-23},{"f":3140,"h":5.3e-23},{"f":3160,"h":7.65e-23},{"f":3180,"h":5.35e-23},{"f":3200,"h":7.75e-23},{"f":3220,"h":5.45e-23},{"f":3240,"h":7.9e-23},{"f":3260,"h":5.5e-23},{"f":3285,"h":1.33e-22},{"f":3330,"h":1.33e-22},{"f":3345,"h":2.17e-22},{"f":3440,"h":2.17e-22},{"f":3450,"h":6.0e-23},{"f":3470,"h":8.9e-23},{"f":3500,"h":6.14e-23},{"f":3510,"h":1.3e-22},{"f":3575,"h":1.3e-22},{"f":3585,"h":6.5e-23},{"f":3600,"h":6.3e-21},{"f":3650,"h":6.3e-21},{"f":3660,"h":9.5e-23},{"f":3680,"h":6.35e-23},{"f":3700,"h":9.4e-23},{"f":3720,"h":6.42e-23},{"f":3735,"h":1.75e-22},{"f":3760,"h":2.86e-22},{"f":3805,"h":2.86e-22},{"f":3815,"h":7.0e-23},{"f":3838,"h":9.8e-23},{"f":3850,"h":6.55e-23},{"f":3860,"h":1.65e-22},{"f":3955,"h":1.65e-22},{"f":3970,"h":6.8e-23},{"f":3985,"h":9.9e-23},{"f":4000,"h":6.85e-23},{"f":4030,"h":1.02e-22},{"f":4060,"h":7.0e-23},{"f":4090,"h":1.04e-22},{"f":4120,"h":7.15e-23},{"f":4150,"h":1.064e-22},{"f":4180,"h":7.3e-23},{"f":4210,"h":1.09e-22},{"f":4240,"h":7.5e-23},{"f":4255,"h":1.6e-22},{"f":4275,"h":1.6e-22},{"f":4300,"h":7.75e-23},{"f":4330,"h":1.124e-22},{"f":4360,"h":7.9e-23},{"f":4390,"h":1.15e-22},{"f":4420,"h":8.08e-23},{"f":4450,"h":1.17e-22},{"f":4480,"h":8.26e-23},{"f":4510,"h":1.2e-22},{"f":4540,"h":8.54e-23},{"f":4560,"h":1.23e-22},{"f":4575,"h":8.7e-23},{"f":4580,"h":2.2e-22},{"f":4590,"h":1.12e-21},{"f":4670,"h":1.12e-21},{"f":4680,"h":9.0e-23},{"f":4700,"h":5.67e-22},{"f":4760,"h":5.67e-22},{"f":4775,"h":9.5e-23},{"f":4800,"h":2.5e-22},{"f":4810,"h":9.2e-23},{"f":4820,"h":5.9e-22},{"f":4900,"h":5.9e-22},{"f":4910,"h":1.0e-22},{"f":4935,"h":3.0e-21},{"f":4945,"h":3.0e-21},{"f":4960,"h":1.2e-22},{"f":4975,"h":9.5e-23},{"f":4990,"h":1.06e-20},{"f":5000,"h":1.06e-20}
],
"frame": [{"f": 100, "h": 1e-22}]
},
"layer": [
{
"data": {"name": "h1"},
"mark": {"type": "line", "strokeWidth": 3.5, "strokeJoin": "bevel", "clip": true},
"encoding": {
"x": {"field": "f", "type": "quantitative", "scale": {"type": "log", "domain": [10, 5000], "nice": false},
"axis": {"orient": "bottom", "values": [10,20,30,40,50,60,70,80,90,100,200,300,400,500,600,700,800,900,1000,2000,3000,4000],
"labelExpr": "datum.value == 10 ? '10¹' : datum.value == 100 ? '10²' : datum.value == 1000 ? '10³' : ''",
"labelFontSize": 27, "labelFont": "Liberation Sans", "labelColor": "#262626", "labelPadding": 25, "labelFlush": false, "labelOverlap": false, "labelBound": false,
"tickSize": {"condition": {"test": "abs(log(datum.value)/LN10 - round(log(datum.value)/LN10)) < 0.001", "value": -12}, "value": -7},
"tickColor": "#262626", "tickWidth": 1.5, "domainColor": "#262626", "domainWidth": 1.5,
"grid": true,
"gridColor": {"condition": {"test": "abs(log(datum.value)/LN10 - round(log(datum.value)/LN10)) < 0.001", "value": "#d6d6d6"}, "value": "#a8a8a8"},
"gridDash": {"condition": {"test": "abs(log(datum.value)/LN10 - round(log(datum.value)/LN10)) < 0.001", "value": []}, "value": [1.5, 4.5]},
"gridWidth": {"condition": {"test": "abs(log(datum.value)/LN10 - round(log(datum.value)/LN10)) < 0.001", "value": 1.5}, "value": 1},
"title": "Frequency [Hz]", "titleFontSize": 27, "titleFont": "Liberation Sans", "titleFontWeight": "normal", "titleColor": "#262626", "titlePadding": -3}},
"y": {"field": "h", "type": "quantitative", "scale": {"type": "log", "domain": [1e-24, 1e-19], "nice": false},
"axis": {"orient": "left", "values": [1e-24,2e-24,3e-24,4e-24,5e-24,6e-24,7e-24,8e-24,9e-24,1e-23,2e-23,3e-23,4e-23,5e-23,6e-23,7e-23,8e-23,9e-23,1e-22,2e-22,3e-22,4e-22,5e-22,6e-22,7e-22,8e-22,9e-22,1e-21,2e-21,3e-21,4e-21,5e-21,6e-21,7e-21,8e-21,9e-21,1e-20,2e-20,3e-20,4e-20,5e-20,6e-20,7e-20,8e-20,9e-20,1e-19],
"labelExpr": "datum.value == 1e-19 ? '10⁻¹⁹' : datum.value == 1e-20 ? '10⁻²⁰' : datum.value == 1e-21 ? '10⁻²¹' : datum.value == 1e-22 ? '10⁻²²' : datum.value == 1e-23 ? '10⁻²³' : datum.value == 1e-24 ? '10⁻²⁴' : ''",
"labelFontSize": 27, "labelFont": "Liberation Sans", "labelColor": "#262626", "labelPadding": 23, "labelFlush": false, "labelOverlap": false, "labelBound": false,
"tickSize": {"condition": {"test": "abs(log(datum.value)/LN10 - round(log(datum.value)/LN10)) < 0.001", "value": -12}, "value": -7},
"tickColor": "#262626", "tickWidth": 1.5, "domainColor": "#262626", "domainWidth": 1.5,
"grid": true,
"gridColor": {"condition": {"test": "abs(log(datum.value)/LN10 - round(log(datum.value)/LN10)) < 0.001", "value": "#d6d6d6"}, "value": "#a8a8a8"},
"gridDash": {"condition": {"test": "abs(log(datum.value)/LN10 - round(log(datum.value)/LN10)) < 0.001", "value": []}, "value": [1.5, 4.5]},
"gridWidth": {"condition": {"test": "abs(log(datum.value)/LN10 - round(log(datum.value)/LN10)) < 0.001", "value": 1.5}, "value": 1},
"title": "Strain [ (m/m) / Hz¹⁄² ]", "titleFontSize": 27, "titleFont": "Liberation Sans", "titleFontWeight": "normal", "titleColor": "#262626", "titlePadding": 4}},
"color": {"datum": "H1, 2015-Oct-01", "type": "nominal",
"scale": {"domain": ["H1, 2015-Oct-01", "L1, 2015-Oct-05"], "range": ["#ff0000", "#009900"]},
"legend": {"title": null, "orient": "top-right", "offset": 22, "symbolType": "M-1,0H5", "symbolStrokeWidth": 3.5, "symbolSize": 484, "labelFontSize": 23, "labelFont": "Liberation Sans", "labelColor": "#000000", "labelLimit": 400, "labelOffset": 47, "strokeColor": "#262626", "fillColor": "white", "padding": 3, "rowPadding": 0}}
}
},
{
"data": {"name": "l1"},
"mark": {"type": "line", "strokeWidth": 3.5, "strokeJoin": "bevel", "clip": true},
"encoding": {
"x": {"field": "f", "type": "quantitative", "scale": {"type": "log", "domain": [10, 5000], "nice": false}, "axis": null},
"y": {"field": "h", "type": "quantitative", "scale": {"type": "log", "domain": [1e-24, 1e-19], "nice": false}, "axis": null},
"color": {"datum": "L1, 2015-Oct-05", "type": "nominal"}
}
},
{
"data": {"name": "frame"},
"mark": {"type": "point", "opacity": 0},
"encoding": {
"x": {"field": "f", "type": "quantitative", "scale": {"type": "log", "domain": [10, 5000], "nice": false},
"axis": {"orient": "top", "values": [10,20,30,40,50,60,70,80,90,100,200,300,400,500,600,700,800,900,1000,2000,3000,4000], "labels": false, "grid": false, "title": null,
"tickSize": {"condition": {"test": "abs(log(datum.value)/LN10 - round(log(datum.value)/LN10)) < 0.001", "value": -12}, "value": -7},
"tickColor": "#262626", "tickWidth": 1.5, "domainColor": "#262626", "domainWidth": 1.5}},
"y": {"field": "h", "type": "quantitative", "scale": {"type": "log", "domain": [1e-24, 1e-19], "nice": false},
"axis": {"orient": "right", "values": [1e-24,2e-24,3e-24,4e-24,5e-24,6e-24,7e-24,8e-24,9e-24,1e-23,2e-23,3e-23,4e-23,5e-23,6e-23,7e-23,8e-23,9e-23,1e-22,2e-22,3e-22,4e-22,5e-22,6e-22,7e-22,8e-22,9e-22,1e-21,2e-21,3e-21,4e-21,5e-21,6e-21,7e-21,8e-21,9e-21,1e-20,2e-20,3e-20,4e-20,5e-20,6e-20,7e-20,8e-20,9e-20,1e-19], "labels": false, "grid": false,
"tickSize": {"condition": {"test": "abs(log(datum.value)/LN10 - round(log(datum.value)/LN10)) < 0.001", "value": -12}, "value": -7},
"tickColor": "#262626", "tickWidth": 1.5, "domainColor": "#262626", "domainWidth": 1.5,
"title": "created by combineofficialstrains_O1 on 25-Oct-2015", "titleFontSize": 13, "titleFont": "DejaVu Sans", "titleFontWeight": "normal", "titleColor": "#000000", "titleAngle": 270, "titleAnchor": "start", "titlePadding": 10}}
}
}
],
"resolve": {"axis": {"x": "independent", "y": "independent"}}
}
